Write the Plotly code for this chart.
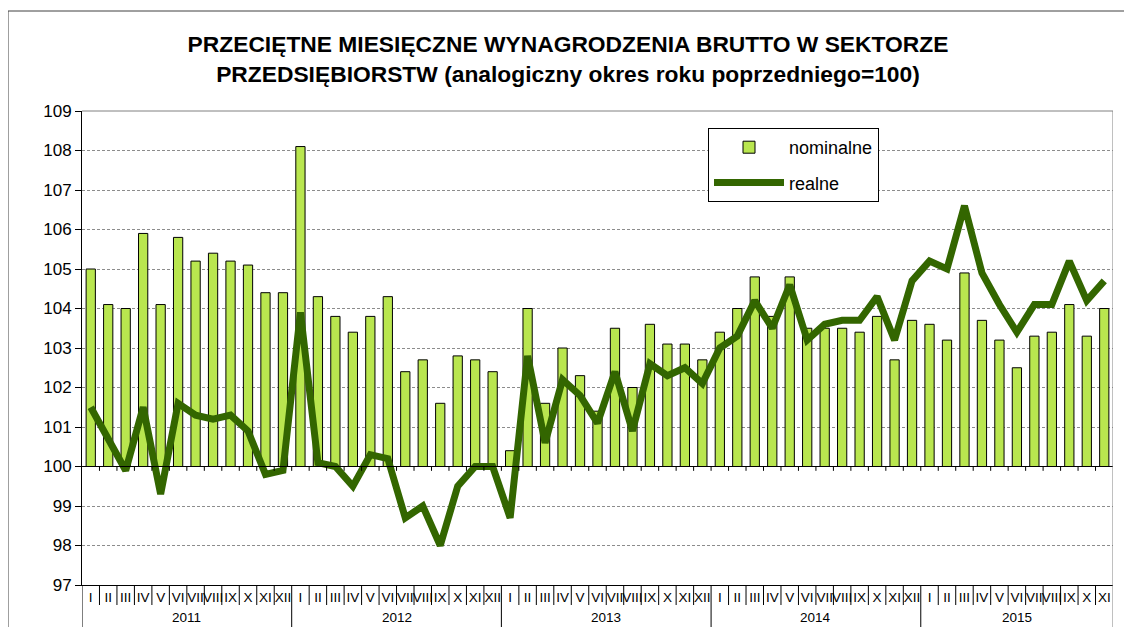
import plotly.graph_objects as go

years = ["2011", "2012", "2013", "2014", "2015"]
month_labels = ["I", "II", "III", "IV", "V", "VI", "VII", "VIII", "IX", "X", "XI", "XII"]
months_per_year = [12, 12, 12, 12, 11]

nominalne = [
    105.0, 104.1, 104.0, 105.9, 104.1, 105.8, 105.2, 105.4, 105.2, 105.1, 104.4, 104.4,
    108.1, 104.3, 103.8, 103.4, 103.8, 104.3, 102.4, 102.7, 101.6, 102.8, 102.7, 102.4,
    100.4, 104.0, 101.6, 103.0, 102.3, 101.4, 103.5, 102.0, 103.6, 103.1, 103.1, 102.7,
    103.4, 104.0, 104.8, 103.8, 104.8, 103.5, 103.5, 103.5, 103.4, 103.8, 102.7, 103.7,
    103.6, 103.2, 104.9, 103.7, 103.2, 102.5, 103.3, 103.4, 104.1, 103.3, 104.0,
]
realne = [
    101.5, 100.7, 99.9, 101.5, 99.3, 101.6, 101.3, 101.2, 101.3, 100.9, 99.8, 99.9,
    103.9, 100.1, 100.0, 99.5, 100.3, 100.2, 98.7, 99.0, 98.0, 99.5, 100.0, 100.0,
    98.7, 102.8, 100.6, 102.2, 101.8, 101.1, 102.4, 100.9, 102.6, 102.3, 102.5, 102.1,
    103.0, 103.3, 104.2, 103.5, 104.6, 103.2, 103.6, 103.7, 103.7, 104.3, 103.2, 104.7,
    105.2, 105.0, 106.6, 104.9, 104.1, 103.4, 104.1, 104.1, 105.2, 104.2, 104.7,
]
base_value = 100

ticktext = []
for n in months_per_year:
    ticktext += month_labels[:n]
idx = list(range(len(ticktext)))

W, H = 1132, 627
OFF = 8  # page body margin
# target plot area in screenshot pixels: x 82..1113, y 111..585
SX0, SX1, SY0, SY1 = 82, 1113, 111, 585
L = SX0 - OFF
T = SY0 - OFF
R = W - (SX1 - OFF)
B = H - (SY1 - OFF)
plot_w = SX1 - SX0
plot_h = SY1 - SY0

def px_x(p):
    return (p - SX0) / plot_w

def px_y(p):
    return (SY1 - p) / plot_h

fig = go.Figure()
fig.add_trace(go.Bar(
    x=idx, y=[v - base_value for v in nominalne], base=base_value,
    name="nominalne", width=0.53, legendgroup="nom",
    marker=dict(color="#b9e64f", line=dict(color="#000000", width=1)),
))
fig.add_trace(go.Scatter(
    x=idx, y=realne, name="realne", mode="lines", legendgroup="real",
    line=dict(color="#336600", width=7),
))

shapes = []
# outer chart frame
shapes.append(dict(type="rect", xref="paper", yref="paper",
                   x0=px_x(8), x1=px_x(1145), y0=px_y(645), y1=px_y(11),
                   line=dict(color="#404040", width=1), layer="below"))
# top plot border
shapes.append(dict(type="line", xref="paper", yref="paper", x0=0, x1=1, y0=1, y1=1,
                   line=dict(color="#808080", width=1)))
# base line at 100
shapes.append(dict(type="line", xref="paper", yref="y", x0=0, x1=1, y0=base_value, y1=base_value,
                   line=dict(color="#000000", width=1)))
# ticks below base line and month / year separators
boundaries = [i + 0.5 for i in range(-1, len(idx))]
year_bounds = [-0.5]
acc = -0.5
for n in months_per_year:
    acc += n
    year_bounds.append(acc)
for b in boundaries:
    if -0.5 < b < len(idx) - 0.5:
        shapes.append(dict(type="line", xref="x", yref="y", x0=b, x1=b,
                           y0=base_value, y1=base_value - 0.11,
                           line=dict(color="#000000", width=1)))
    is_year = any(abs(b - yb) < 1e-9 for yb in year_bounds)
    is_last = abs(b - year_bounds[-1]) < 1e-9
    y_top = 1 if is_last else 0
    shapes.append(dict(type="line", xref="x", yref="paper", x0=b, x1=b,
                       y0=y_top, y1=px_y(650) if is_year else px_y(605),
                       line=dict(color="#808080" if is_last else "#000000", width=1)))

annotations = []
start = 0
for yname, n in zip(years, months_per_year):
    annotations.append(dict(x=start + (n - 1) / 2, y=px_y(617), xref="x", yref="paper",
                            text=yname, showarrow=False, yanchor="middle",
                            font=dict(family="Liberation Sans, Arial", size=13.5, color="#000000")))
    start += n

fig.update_layout(
    width=W, height=H,
    margin=dict(l=L, r=R, t=T, b=B),
    paper_bgcolor="#ffffff", plot_bgcolor="#ffffff",
    title=dict(
        text="PRZECIĘTNE MIESIĘCZNE WYNAGRODZENIA BRUTTO W SEKTORZE<br>PRZEDSIĘBIORSTW (analogiczny okres roku poprzedniego=100)",
        x=px_x(568), xref="paper", xanchor="center", y=1 - (52 - OFF) / H, yanchor="middle",
        font=dict(family="Liberation Sans, Arial", size=22.8, color="#000000", weight="bold"),
    ),
    font=dict(family="Liberation Sans, Arial", color="#000000"),
    xaxis=dict(
        range=[-0.5, len(idx) - 0.5], tickmode="array", tickvals=idx, ticktext=ticktext,
        tickangle=0, ticks="", showgrid=False, zeroline=False,
        showline=True, linecolor="#000000", linewidth=1,
        tickfont=dict(size=13.5, color="#000000"),
    ),
    yaxis=dict(
        range=[97, 109], dtick=1, tick0=97, ticks="outside", ticklen=6, tickcolor="#000000",
        showline=True, linecolor="#000000", linewidth=1,
        showgrid=True, gridcolor="#8c8c8c", gridwidth=1, griddash="3px,2px",
        zeroline=False, tickfont=dict(size=17, color="#000000"),
    ),
    legend=dict(
        x=px_x(708), y=px_y(128), xanchor="left", yanchor="top",
        bordercolor="#000000", borderwidth=1, bgcolor="#ffffff",
        font=dict(size=18, color="#000000"), itemwidth=70,
        tracegroupgap=9,
    ),
    bargap=0.45,
    shapes=shapes,
    annotations=annotations,
    showlegend=True,
)

fig.write_html("out.html")
